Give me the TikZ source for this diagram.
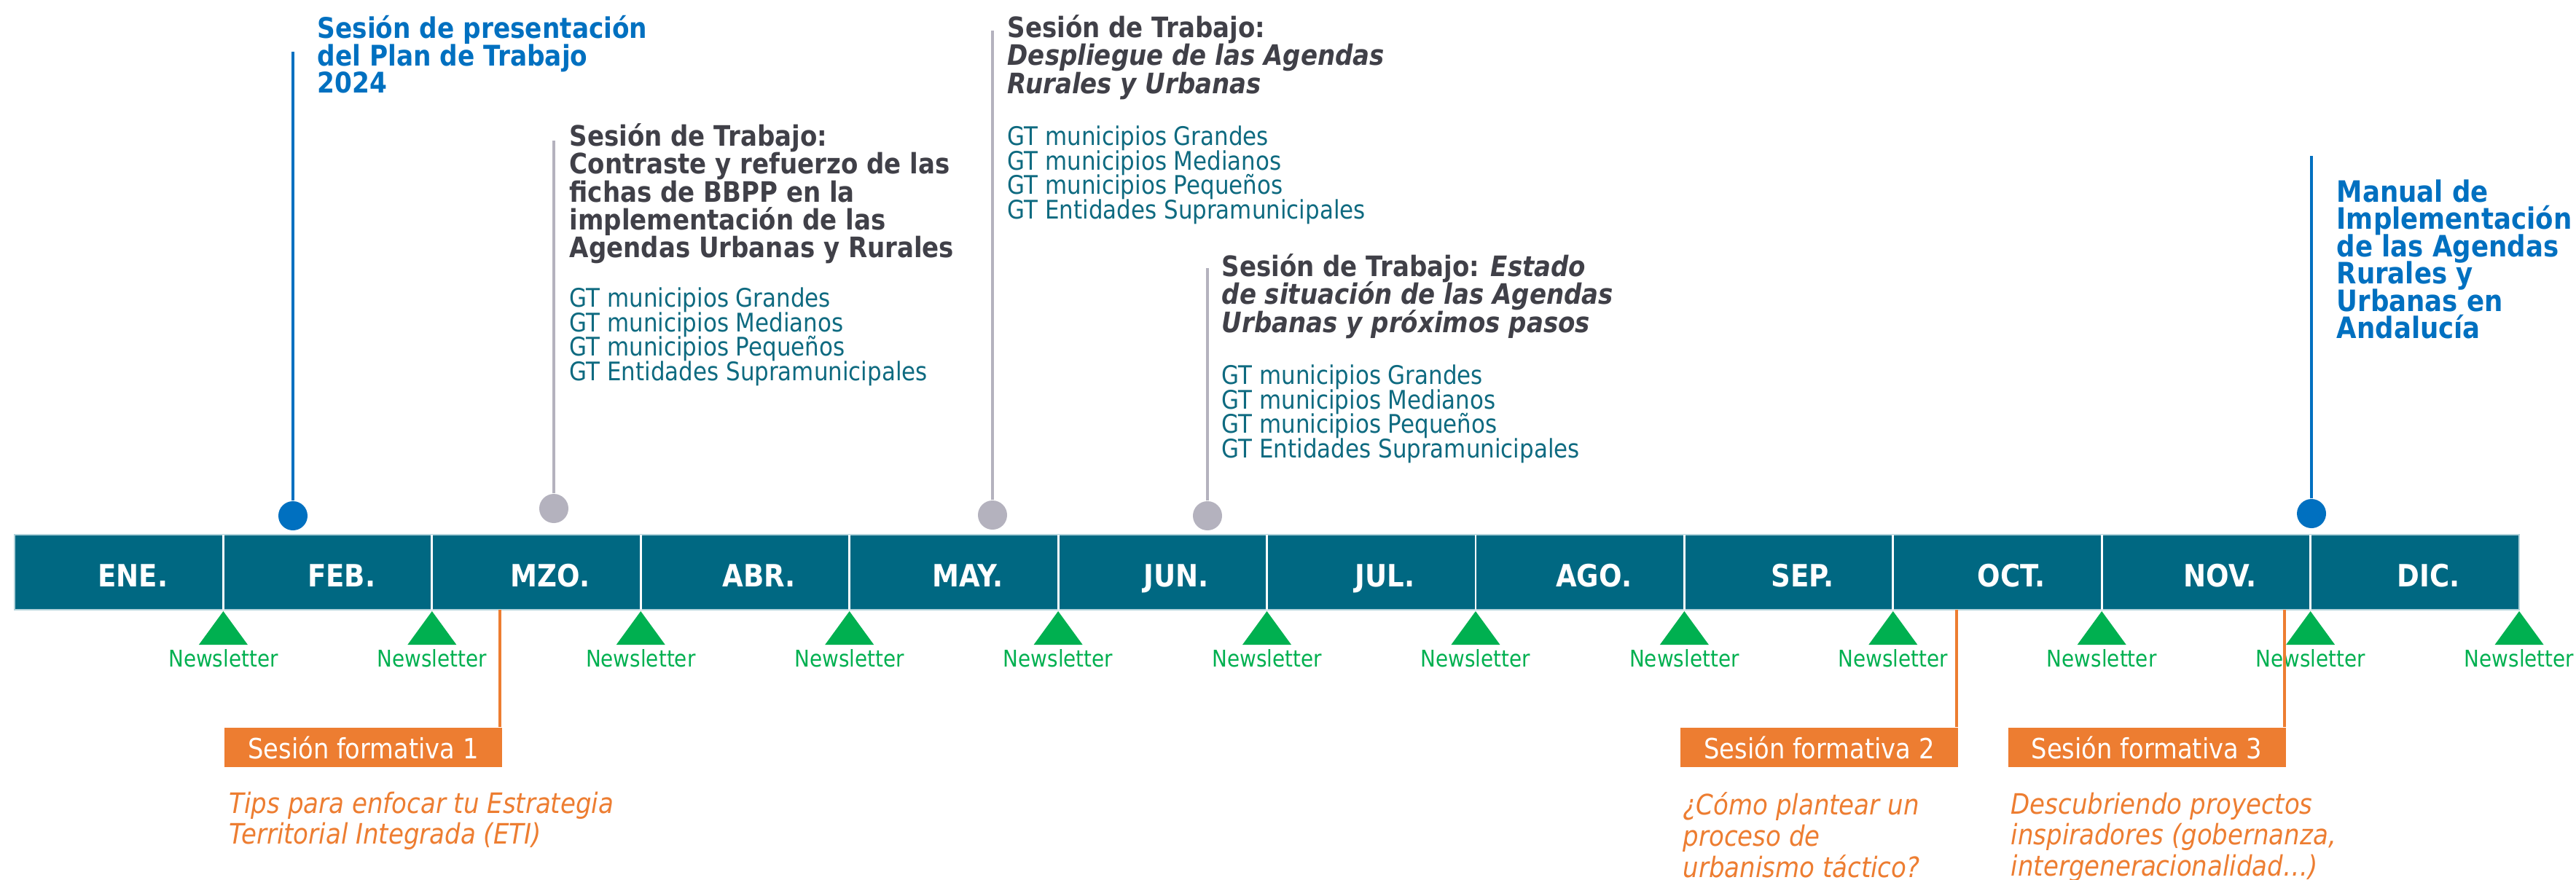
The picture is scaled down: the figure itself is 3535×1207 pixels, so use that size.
\documentclass[tikz,border=0pt]{standalone}
\usepackage{fontspec}
\setmainfont{DejaVu Sans}[FakeStretch=0.88]
\usepackage{tikz}
\definecolor{barteal}{RGB}{0,104,130}
\definecolor{gtteal}{RGB}{14,106,128}
\definecolor{azul}{RGB}{0,112,192}
\definecolor{gris}{RGB}{180,178,190}
\definecolor{gristxt}{RGB}{64,64,72}
\definecolor{verde}{RGB}{0,176,80}
\definecolor{naranja}{RGB}{237,125,49}
\newcommand{\fsz}[2]{\fontsize{#1}{#2}\selectfont\lineskiplimit=-100pt}

\begin{document}
\begin{tikzpicture}[x=0.1mm, y=-0.1mm,
    mes/.style={fill=barteal, minimum width=28.642mm, minimum height=10.3mm, inner sep=0pt, outer sep=0pt},
    mestxt/.style={text=white, font=\fsz{12pt}{14pt}\bfseries, anchor=base, inner sep=0pt},
    divisor/.style={white, line width=0.8pt},
    borde/.style={white!70!barteal, line width=0.5pt},
    boletin/.style={fill=verde},
    newstxt/.style={text=verde, font=\fsz{9pt}{11pt}, anchor=base, inner sep=0pt},
    hito/.style={circle, inner sep=0pt, minimum size=4mm},
    hitoazul/.style={hito, fill=azul},
    hitogris/.style={hito, fill=gris},
    paloazul/.style={azul, line width=1.4pt},
    palogris/.style={gris, line width=1.4pt},
    tituloazul/.style={text=azul, font=\fsz{11.1pt}{10.67pt}\bfseries, align=left, anchor=north west, inner sep=0pt},
    sesion/.style={text=gristxt, font=\fsz{11pt}{10.9pt}\bfseries, align=left, anchor=north west, inner sep=0pt},
    grupos/.style={text=gtteal, font=\fsz{10pt}{9.6pt}, align=left, anchor=north west, inner sep=0pt},
    formbox/.style={fill=naranja, text=white, font=\fsz{10.9pt}{12pt}, minimum width=38.1mm, minimum height=5.4mm, inner sep=0pt},
    formline/.style={naranja, line width=1pt},
    formtxt/.style={text=naranja, font=\fsz{11pt}{12.2pt}\itshape, align=left, anchor=north west, inner sep=0pt}]
    \useasboundingbox (0,0) rectangle (3535,1207);
    \fill[white] (0,0) rectangle (3535,1207);

    \foreach \m [count=\k] in {ENE.,FEB.,MZO.,ABR.,MAY.,JUN.,JUL.,AGO.,SEP.,OCT.,NOV.,DIC.}{
        \node[mes] (m\k) at ({20+286.42*(\k-0.5)},785.5) {};
        \node[mestxt] (l\k) at ({20+286.42*(\k-0.5)+19},805) {\m};
    }
    \draw[borde] (m1.north west) rectangle (m12.south east);
    \foreach \k in {1,...,11}
        \draw[divisor] (m\k.north east) -- (m\k.south east);

    \foreach \k in {1,...,12}{
        \fill[boletin] (m\k.south east) ++(0,2) -- ++(-33.5,46) -- ++(67,0) -- cycle;
        \node[newstxt] (n\k) at ({20+286.42*\k},915) {Newsletter};
    }

    \node[hitoazul] (d1) at (402,708) {};
    \coordinate (d1top) at (402,71);
    \draw[paloazul] (d1) -- (d1top);
    \node[tituloazul] (t1) at (435,21) {Sesión de presentación\\del Plan de Trabajo\\2024};

    \node[hitogris] (d2) at (760,698) {};
    \coordinate (d2top) at (760,193);
    \draw[palogris] (d2) -- (d2top);
    \node[sesion] (t2) at (781,169) {Sesión de Trabajo:\\Contraste y refuerzo de las\\fichas de BBPP en la\\implementación de las\\Agendas Urbanas y Rurales};
    \node[grupos] (g2) at (781,394) {GT municipios Grandes\\GT municipios Medianos\\GT municipios Pequeños\\GT Entidades Supramunicipales};

    \node[hitogris] (d3) at (1362,707) {};
    \coordinate (d3top) at (1362,42);
    \draw[palogris] (d3) -- (d3top);
    \node[sesion] (t3) at (1382,20) {Sesión de Trabajo:\\\textit{Despliegue de las Agendas}\\\textit{Rurales y Urbanas}};
    \node[grupos] (g3) at (1382,172) {GT municipios Grandes\\GT municipios Medianos\\GT municipios Pequeños\\GT Entidades Supramunicipales};

    \node[hitogris] (d4) at (1657,708) {};
    \coordinate (d4top) at (1657,368);
    \draw[palogris] (d4) -- (d4top);
    \node[sesion] (t4) at (1676,348) {Sesión de Trabajo: \textit{Estado}\\\textit{de situación de las Agendas}\\\textit{Urbanas y próximos pasos}};
    \node[grupos] (g4) at (1676,500) {GT municipios Grandes\\GT municipios Medianos\\GT municipios Pequeños\\GT Entidades Supramunicipales};

    \node[hitoazul] (d5) at (3172,705) {};
    \coordinate (d5top) at (3172,214);
    \draw[paloazul] (d5) -- (d5top);
    \node[tituloazul, font=\fsz{11.5pt}{10.64pt}\bfseries] (t5) at (3206,246) {Manual de\\Implementación\\de las Agendas\\Rurales y\\Urbanas en\\Andalucía};

    \node[formbox] (sf1) at (498.5,1026) {Sesión formativa 1};
    \node[formbox] (sf2) at (2496.5,1026) {Sesión formativa 2};
    \node[formbox] (sf3) at (2946,1026) {Sesión formativa 3};
    \coordinate (o1) at (686,837);
    \coordinate (o2) at (2685,837);
    \coordinate (o3) at (3135,837);
    \draw[formline] (o1) -- (o1 |- sf1.north);
    \draw[formline] (o2) -- (o2 |- sf2.north);
    \draw[formline] (o3) -- (o3 |- sf3.north);
    \node[formtxt] (f1) at (314,1086) {Tips para enfocar tu Estrategia\\Territorial Integrada (ETI)};
    \node[formtxt] (f2) at (2309,1087) {¿Cómo plantear un\\proceso de\\urbanismo táctico?};
    \node[formtxt] (f3) at (2759,1087) {Descubriendo proyectos\\inspiradores (gobernanza,\\intergeneracionalidad…)};
\end{tikzpicture}
\end{document}
